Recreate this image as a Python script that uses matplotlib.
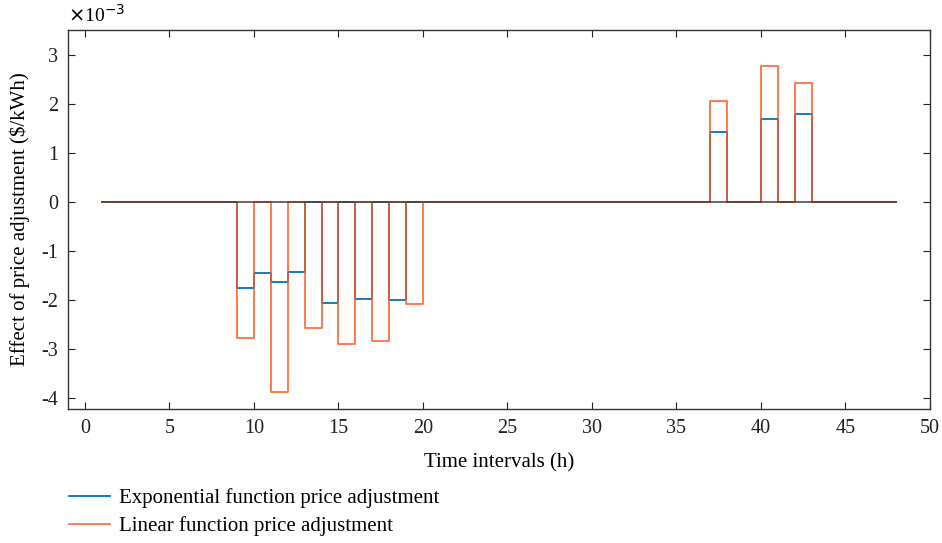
import matplotlib.pyplot as plt
import numpy as np

plt.rcParams['font.family'] = ['Liberation Serif', 'DejaVu Serif']

# hours 1..48, values in units of 1e-3 $/kWh
hours = np.arange(1, 49)

exp_idx = [9, 10, 11, 12, 14, 16, 18, 37, 40, 42]
exp_v = [-1.75, -1.44, -1.64, -1.42, -2.07, -1.97, -1.99, 1.42, 1.69, 1.79]
lin_idx = [9, 11, 13, 15, 17, 19, 37, 40, 42]
lin_v = [-2.77, -3.88, -2.58, -2.9, -2.84, -2.09, 2.05, 2.77, 2.43]

exp_vals = np.zeros(48)
lin_vals = np.zeros(48)
for h, v in zip(exp_idx, exp_v):
    exp_vals[h - 1] = v
for h, v in zip(lin_idx, lin_v):
    lin_vals[h - 1] = v

blue = '#0072BD'
orange = '#FF5A1F'

fig = plt.figure(figsize=(9.42, 5.43), dpi=100)
ax = fig.add_axes([68/942, 1 - 409/543, (930-68)/942, (409-30)/543])

l1, = ax.step(hours, exp_vals, where='post', color=blue, lw=1.3)
l2, = ax.step(hours, lin_vals, where='post', color=orange, lw=1.3, alpha=0.85)
ax.plot([1, 48], [0, 0], color='#4f3a32', lw=1.3, alpha=0.85)

ax.set_xlim(-1, 50)
ax.set_ylim(-4.22, 3.5)
ax.set_xticks(np.arange(0, 51, 5))
ax.set_yticks(np.arange(-4, 4, 1))
ax.set_yticklabels([str(t) for t in range(-4, 4)])
ax.tick_params(direction='in', top=True, right=True, labelsize=14.5,
               length=5, width=0.8, colors='#222222', pad=7)
for s in ax.spines.values():
    s.set_color('#333333')
    s.set_linewidth(1.0)

ax.set_xlabel('Time intervals (h)', fontsize=15, labelpad=11)
ax.set_ylabel('Effect of price adjustment ($/kWh)', fontsize=15, labelpad=8)
ax.text(0.0, 1.012, r'$\times$10$^{-3}$', transform=ax.transAxes,
        fontsize=14, ha='left', va='bottom')

fig.legend([l1, l2], ['Exponential function price adjustment',
                      'Linear function price adjustment'],
           loc='upper left', bbox_to_anchor=(61/942, 1 - 480/543),
           frameon=False, fontsize=15, handlelength=1.95,
           handletextpad=0.45, labelspacing=0.4, borderaxespad=0)

fig.savefig('out.png', dpi=100)
